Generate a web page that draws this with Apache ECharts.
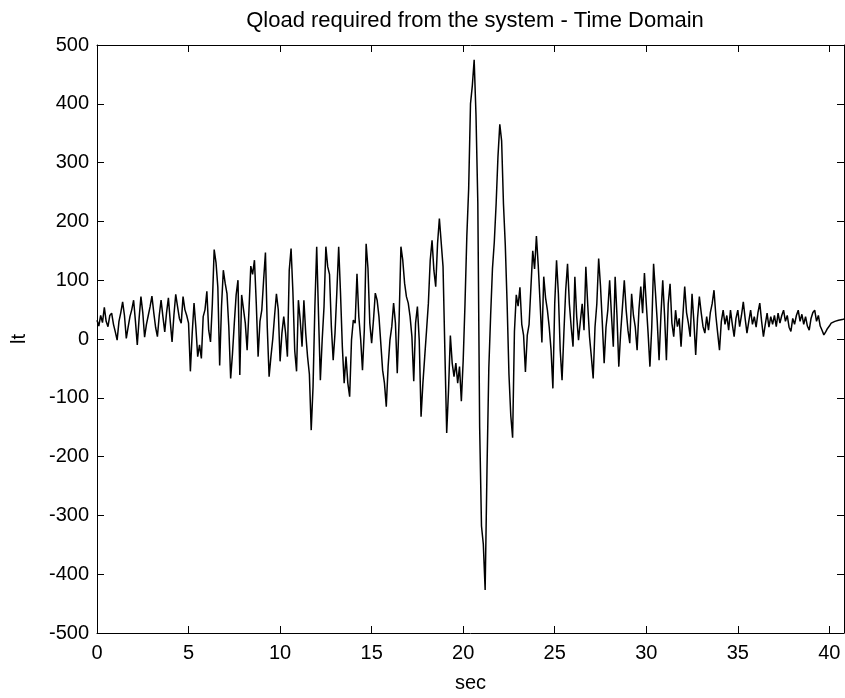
<!DOCTYPE html>
<html>
<head>
<meta charset="utf-8">
<script src="https://cdn.jsdelivr.net/npm/echarts@6/dist/echarts.min.js"></script>
<style>
  html, body { margin: 0; padding: 0; background: #fff; }
  #chart { width: 845px; height: 698px; }
</style>
</head>
<body>
<div id="chart"></div>
<script>
// sample step of the recorded signal, sec
var dt = 0.1;

// Qload (lt), one value per 0.1 s
var q00 = [32, 22, 40, 28, 54, 30, 21, 40, 44, 25,
  12, -2, 30, 45, 63, 40, 1, 20, 38, 50,
  66, 30, -10, 35, 72, 45, 3, 25, 40, 55,
  73, 45, 20, 4, 40, 66, 38, 12, 45, 70,
  30, -5, 40, 76, 55, 35, 27, 72, 50, 40,
  27, -55, 10, 61, 20, -30, -10, -33, 38, 50,
  81, 15, -5, 60, 152, 130, 88, -45, 55, 117,
  95, 77, 20, -67, -25, 27, 75, 100, -61, 75,
  72, 27, -19, 49, 124, 110, 134, 60, -30, 30,
  49, 100, 147, 20, -64, -30, 0, 40, 77, 50];
var q10 = [-38, 10, 38, 10, -30, 117, 154, 80, -20, -55,
  66, 32, -13, 66, 10, -30, -60, -155, -81, 55,
  157, 40, -70, -1, 55, 157, 123, 110, 21, -36,
  10, 80, 157, 78, -13, -75, -30, -75, -98, -2,
  32, 27, 111, 38, 0, -53, 15, 162, 120, 27,
  -7, 32, 78, 66, 38, -7, -53, -75, -115, -47,
  -2, 21, 61, 27, -58, 32, 157, 134, 95, 72,
  61, 38, 4, -72, 27, 55, -2, -132, -75, -30,
  15, 61, 134, 168, 117, 89, 162, 205, 208, 123,
  -20, -160, -87, 6, -41, -64, -41, -75, -47, -106];
var q20 = [-37, 60, 175, 256, 400, 431, 475, 381, 231, -150,
  -318, -349, -427, -224, -50, 40, 120, 165, 230, 310,
  365, 337, 230, 160, 60, -60, -130, -168, 13, 75,
  56, 88, 25, 6, -56, 6, 25, 88, 150, 119,
  175, 125, 62, -6, 106, 70, 49, 20, -19, -84,
  60, 134, 77, -19, -70, 10, 83, 128, 60, 20,
  -13, 106, 38, -2, 30, 60, 15, 123, 60, 4,
  -30, -67, 20, 60, 137, 90, 27, -41, 20, 49,
  100, 40, -13, 106, 40, -47, 10, 55, 100, 50,
  15, -7, 77, 40, 20, -19, 50, 89, 44, 112];
var q30 = [60, 10, -47, 20, 128, 80, 30, -36, 40, 100,
  40, -36, 60, 94, 27, 4, 49, 21, 35, -13,
  40, 89, 45, 27, 4, 77, 30, -27, 35, 72,
  45, 21, 10, 38, 15, 45, 60, 83, 40, 10,
  -19, 30, 49, 25, 40, 15, 49, 25, 4, 35,
  49, 21, 40, 63, 35, 10, 30, 49, 25, 38,
  20, 45, 61, 30, 4, 25, 44, 20, 38, 25,
  40, 21, 44, 27, 40, 49, 30, 40, 20, 13,
  35, 25, 40, 49, 30, 42, 25, 38, 22, 15,
  35, 45, 49, 30, 40, 22, 15, 7, 12, 18];
var q40 = [22, 27, 29, 30, 31, 32, 32, 33, 34];

var xTicks = [0, 5, 10, 15, 20, 25, 30, 35, 40];
var yTicks = [-500, -400, -300, -200, -100, 0, 100, 200, 300, 400, 500];

var qload = q00.concat(q10, q20, q30, q40);
var points = [];
for (var i = 0; i < qload.length; i++) {
  points.push([+(i * dt).toFixed(1), qload[i]]);
}

var myChart = echarts.init(document.getElementById('chart'), null, { renderer: 'canvas' });

var font = 'Liberation Sans, Arial, Helvetica, sans-serif';
var lineCol = '#000';

function boxAxis(pos, lab) {
  return {
    position: pos,
    axisLine: { show: true, onZero: false, lineStyle: { color: lineCol, width: 1 } },
    axisTick: { show: true, inside: true, length: 7, lineStyle: { color: lineCol } },
    axisLabel: { show: lab, color: '#000', fontFamily: font, fontSize: 20 },
    splitLine: { show: false }
  };
}

var xBottom = boxAxis('bottom', true);
xBottom.type = 'value';
xBottom.min = 0;
xBottom.max = 40.8;
xBottom.interval = 5;
xBottom.axisLabel.margin = 10;
xBottom.axisLabel.showMaxLabel = false;
xBottom.axisLabel.formatter = function (v) { return xTicks.indexOf(v) >= 0 ? String(v) : ''; };
xBottom.name = 'sec';
xBottom.nameLocation = 'middle';
xBottom.nameGap = 40;
xBottom.nameTextStyle = { color: '#000', fontFamily: font, fontSize: 20 };

var xTop = boxAxis('top', false);
xTop.type = 'value';
xTop.min = 0;
xTop.max = 40.8;
xTop.interval = 5;

var yLeft = boxAxis('left', true);
yLeft.type = 'value';
yLeft.min = -500;
yLeft.max = 500;
yLeft.interval = 100;
yLeft.axisLabel.margin = 8;
yLeft.axisLabel.formatter = function (v) { return yTicks.indexOf(v) >= 0 ? String(v) : ''; };
yLeft.name = 'lt';
yLeft.nameLocation = 'middle';
yLeft.nameGap = 68;
yLeft.nameTextStyle = { color: '#000', fontFamily: font, fontSize: 20 };

var yRight = boxAxis('right', false);
yRight.type = 'value';
yRight.min = -500;
yRight.max = 500;
yRight.interval = 100;

var option = {
  backgroundColor: '#fff',
  animation: false,
  title: {
    text: 'Qload required from the system - Time Domain',
    left: 470,
    top: 5,
    textAlign: 'center',
    textStyle: { color: '#000', fontFamily: font, fontSize: 22, fontWeight: 'normal' }
  },
  grid: { left: 97, right: 1, top: 45, bottom: 64, containLabel: false },
  xAxis: [xBottom, xTop],
  yAxis: [yLeft, yRight],
  series: [{
    type: 'line',
    xAxisIndex: 0,
    yAxisIndex: 0,
    data: points,
    showSymbol: false,
    lineStyle: { color: '#000', width: 1.5 }
  }]
};
myChart.setOption(option);
</script>
</body>
</html>
